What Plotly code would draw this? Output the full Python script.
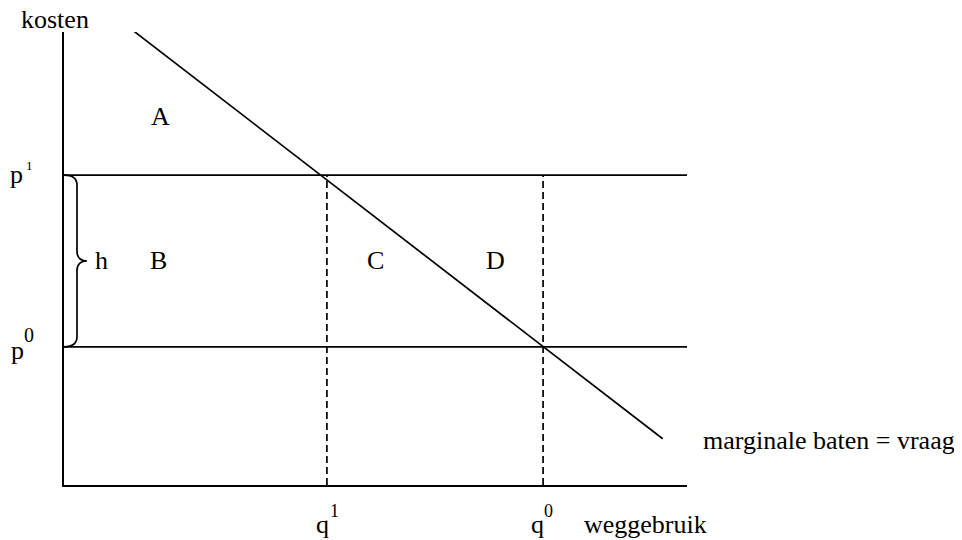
import plotly.graph_objects as go

# ---- data (diagram values, in abstract units) ----
demand_q = [11.2, 96.1]      # marginale baten = vraag
demand_p = [100.2, 10.2]
p1 = 68.4                    # price level p^1
p0 = 30.5                    # price level p^0
q1 = 42.2                    # quantity q^1
q0 = 76.9                    # quantity q^0
x_max = 100.0
y_max = 100.0

# ---- layout geometry (page has an 8px body margin) ----
OFF = 8
W, H = 962, 540
L, R, T, B = 64 - OFF, 962 - 687 + OFF, 32 - OFF, 540 - 485 + OFF
pw, ph = W - L - R, H - T - B


def X(px):
    return (px - OFF - L) / pw * x_max


def PX(px):
    return (px - OFF - L) / pw


def PY(py):
    return (H - B - (py - OFF)) / ph


FONT = "Liberation Serif, Times New Roman, serif"
BLACK = "#000000"

fig = go.Figure()

# horizontal price lines
for p in (p1, p0):
    fig.add_trace(go.Scatter(x=[0, x_max], y=[p, p], mode="lines",
                             line=dict(color=BLACK, width=1.7),
                             hoverinfo="skip", showlegend=False))

# dashed quantity lines
for q in (q1, q0):
    fig.add_trace(go.Scatter(x=[q, q], y=[0, p1], mode="lines",
                             line=dict(color=BLACK, width=1.7, dash="7px,4px"),
                             hoverinfo="skip", showlegend=False))

# demand line
fig.add_trace(go.Scatter(x=demand_q, y=demand_p, mode="lines",
                         line=dict(color=BLACK, width=1.7),
                         cliponaxis=False, hoverinfo="skip", showlegend=False))

# curly brace between p0 and p1
bx1 = X(77)
bx2 = X(87)
c = 10 / ph * y_max
ym = (p1 + p0) / 2
brace = (f"M 0,{p1} Q {bx1},{p1} {bx1},{p1 - c} "
         f"L {bx1},{ym + c} Q {bx1},{ym} {bx2},{ym} "
         f"Q {bx1},{ym} {bx1},{ym - c} "
         f"L {bx1},{p0 + c} Q {bx1},{p0} 0,{p0}")
fig.add_shape(type="path", path=brace, xref="x", yref="y",
              line=dict(color=BLACK, width=1.7))

ann = []


def label(text, px, py, size=26):
    ann.append(dict(x=PX(px), y=PY(py), xref="paper", yref="paper", text=text,
                    showarrow=False, xanchor="center", yanchor="middle",
                    font=dict(family=FONT, size=size, color=BLACK)))


label("kosten", 55, 19)
label("A", 160, 117)
label("B", 158, 260)
label("C", 375, 260)
label("D", 495, 260)
label("h", 101, 261)
label("p", 16, 174)
label("1", 29, 166, size=13)
label("p", 17, 350)
label("0", 29, 335, size=20)
label("q", 322, 524)
label("1", 334, 511, size=18)
label("q", 537, 524)
label("0", 548, 511, size=18)
label("weggebruik", 645, 524)
label("marginale baten = vraag", 829, 440)

fig.update_layout(
    width=W, height=H,
    margin=dict(l=L, r=R, t=T, b=B),
    paper_bgcolor="white", plot_bgcolor="white",
    annotations=ann,
    xaxis=dict(range=[0, x_max], showgrid=False, zeroline=False,
               showticklabels=False, ticks="", showline=True,
               linecolor=BLACK, linewidth=2, fixedrange=True),
    yaxis=dict(range=[0, y_max], showgrid=False, zeroline=False,
               showticklabels=False, ticks="", showline=True,
               linecolor=BLACK, linewidth=2, fixedrange=True),
)

fig.write_html("out.html")
